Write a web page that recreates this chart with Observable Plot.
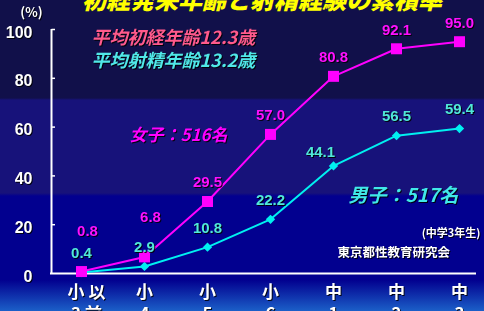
<!DOCTYPE html>
<html><head><meta charset="utf-8">
<script src="https://cdn.jsdelivr.net/npm/d3@7"></script>
<script src="https://cdn.jsdelivr.net/npm/@observablehq/plot@0.6"></script>
<style>
html,body{margin:0;padding:0;width:484px;height:311px;overflow:hidden;}
body{position:relative;background:linear-gradient(to bottom,#11104a 0px,#11104a 98px,#17127a 100px,#17127a 193px,#02008f 196px,#02008f 280px,#1b5fc8 311px);}
#title{position:absolute;top:-19px;left:0;width:524px;text-align:center;color:#ffff00;font:italic 900 24px "Noto Sans CJK JP";white-space:nowrap;}
#chart{position:absolute;top:0;left:0;}
svg text{filter:drop-shadow(1px 1px 0px rgba(0,0,0,0.85));}
</style></head>
<body>
<div id="title">初経発来年齢と射精経験の累積率</div>
<div id="chart"></div>
<script>
const categories = ["小3以前","小4","小5","小6","中1","中2","中3"];
const tickLabels = ["小 以\n3 前","小\n4","小\n5","小\n6","中\n1","中\n2","中\n3"];
const girls = [0.8, 6.8, 29.5, 57.0, 80.8, 92.1, 95.0];
const boys = [0.4, 2.9, 10.8, 22.2, 44.1, 56.5, 59.4];
const yTicks = [0, 20, 40, 60, 80, 100];
const legendGirls = "平均初経年齢12.3歳";
const legendBoys = "平均射精年齢13.2歳";
const labelGirls = "女子：516名";
const labelBoys = "男子：517名";
const noteGrade = "(中学3年生)";
const noteSource = "東京都性教育研究会";
const unitLabel = "(%)";

const G = categories.map((c, i) => ({x: c, y: girls[i], i}));
const B = categories.map((c, i) => ({x: c, y: boys[i], i}));
const fmt = v => v.toFixed(1);
const num = "Liberation Sans";
const jp = "Noto Sans CJK JP";
const at = c => () => c;
const tickMark = {draw(context) { context.moveTo(0, 0); context.lineTo(3.5, 0); }};
const xAxisStyle = {tickSize: 0, tickPadding: 9, fontSize: 17, fontWeight: "bold", fill: "white", fontFamily: jp, lineHeight: 1.3, label: null,
  tickFormat: d => tickLabels[categories.indexOf(d)]};

const chart = Plot.plot({
  width: 484, height: 311,
  marginLeft: 50, marginRight: 8, marginTop: 29, marginBottom: 38,
  style: {background: "transparent", color: "white", fontFamily: num, overflow: "visible"},
  x: {domain: categories, type: "point", range: [80, 459], padding: 0},
  y: {domain: [0, 100], label: null},
  marks: [
    Plot.ruleY([0], {stroke: "white", strokeWidth: 2}),
    Plot.ruleX([categories[0]], {y1: 0, y2: 100, dx: -30, stroke: "white", strokeWidth: 2}),
    Plot.dot(yTicks.slice(1), {x: at(categories[0]), y: d => d, dx: -30, symbol: tickMark, r: 3, fill: "none", stroke: "white", strokeWidth: 1.5}),
    Plot.axisY(yTicks, {tickSize: 0, tickPadding: 18, dy: 3, fontSize: 16, fontWeight: "bold", fill: "white", fontFamily: num, label: null}),
    Plot.axisX(categories.slice(1), xAxisStyle),
    Plot.axisX(categories.slice(0, 1), {...xAxisStyle, dx: 5}),
    Plot.text([unitLabel], {x: at(categories[0]), y: at(107), dx: -50, fontSize: 13, fontWeight: "bold", fill: "white", fontFamily: jp}),
    Plot.line(G, {x: "x", y: "y", stroke: "#ff00ff", strokeWidth: 2}),
    Plot.line(B, {x: "x", y: "y", stroke: "#00f0f0", strokeWidth: 2}),
    Plot.dot(B, {x: "x", y: "y", symbol: "diamond2", r: 4.2, fill: "#00f0f0", stroke: "none"}),
    Plot.dot(G, {x: "x", y: "y", symbol: "square", r: 6.2, fill: "#ff00ff", stroke: "none"}),
    // value labels
    Plot.text(G.filter(d => d.i >= 2), {x: "x", y: "y", text: d => fmt(d.y), dy: -19, fill: "#ff10ff", fontSize: 15, fontWeight: "bold"}),
    Plot.text(G.filter(d => d.i < 2), {x: "x", y: "y", text: d => fmt(d.y), dy: -40, dx: 6, fill: "#ff10ff", fontSize: 15, fontWeight: "bold"}),
    Plot.text(B.filter(d => d.i !== 4), {x: "x", y: "y", text: d => fmt(d.y), dy: -19, fill: "#50e8d8", fontSize: 15, fontWeight: "bold"}),
    Plot.text(B.filter(d => d.i === 4), {x: "x", y: "y", text: d => fmt(d.y), dy: -14, dx: -13, fill: "#50e8d8", fontSize: 15, fontWeight: "bold"}),
    // annotations
    Plot.text([legendGirls], {x: at(categories[0]), y: at(96.5), dx: 10, textAnchor: "start", fill: "#ff5a8c", fontSize: 18, fontWeight: "bold", fontStyle: "italic", fontFamily: jp}),
    Plot.text([legendBoys], {x: at(categories[0]), y: at(87.0), dx: 10, textAnchor: "start", fill: "#50e8e8", fontSize: 18, fontWeight: "bold", fontStyle: "italic", fontFamily: jp}),
    Plot.text([labelGirls], {x: at(categories[1]), y: at(56.6), dx: -15, textAnchor: "start", fill: "#ff00ff", fontSize: 17, fontWeight: "bold", fontStyle: "italic", fontFamily: jp}),
    Plot.text([labelBoys], {x: at(categories[4]), y: at(31.6), dx: 15, textAnchor: "start", fill: "#40e8e8", fontSize: 19, fontWeight: "bold", fontStyle: "italic", fontFamily: jp}),
    Plot.text([noteGrade], {x: at(categories[6]), y: at(16.4), dx: 21, textAnchor: "end", fill: "white", fontSize: 11, fontWeight: "bold", fontFamily: jp}),
    Plot.text([noteSource], {x: at(categories[4]), y: at(8.2), dx: 4, textAnchor: "start", fill: "white", fontSize: 12.5, fontWeight: "bold", fontFamily: jp})
  ]
});
document.getElementById("chart").appendChild(chart);
</script>
</body></html>
